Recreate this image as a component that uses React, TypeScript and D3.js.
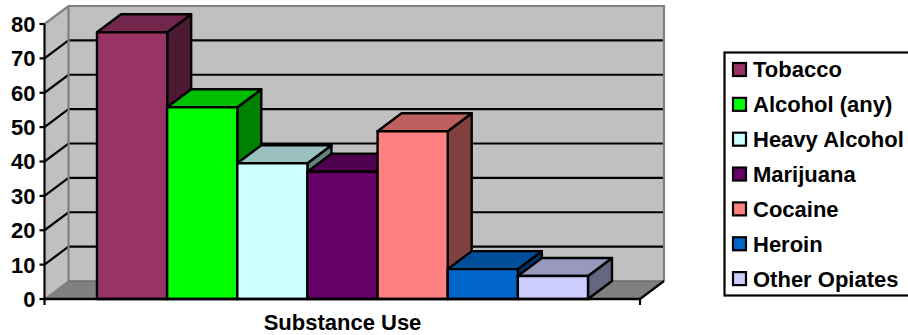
import React from "react";
import * as d3 from "d3";

const substances = ["Tobacco", "Alcohol (any)", "Heavy Alcohol", "Marijuana", "Cocaine", "Heroin", "Other Opiates"];
const percentages = [77.6, 55.8, 39.5, 37, 48.8, 8.7, 6.7];
const frontColors = ["#993366", "#00FF00", "#CCFFFF", "#660066", "#FF8080", "#0066CC", "#CCCCFF"];
const yTicks = [0, 10, 20, 30, 40, 50, 60, 70, 80];
const axisTitle = "Substance Use";

const W = 908;
const H = 335;
const font = "'Liberation Sans', Arial, sans-serif";

// Oblique offset that gives the plot its depth
const depthX = 24;
const depthY = -18;

const y = d3.scaleLinear().domain([0, 80]).range([299, 24]);
const x = d3.scaleBand<string>().domain(substances).range([97, 588]);
const floorLeft = 44.5;
const floorRight = 640;

const pts = (p: [number, number][]) => p.map((c) => c.join(",")).join(" ");

// Faces of a box are the front colour scaled towards black
const shade = (c: string, k: number) => {
  const { r, g, b } = d3.rgb(c);
  return d3.rgb(r * k, g * k, b * k).formatHex();
};

function Bar({ name, value, color }: { name: string; value: number; color: string }) {
  const x0 = x(name)!;
  const x1 = x0 + x.bandwidth();
  const top = y(value);
  const base = y(0);
  return (
    <g stroke="#000" strokeWidth={2.4} strokeLinejoin="round">
      <polygon
        points={pts([[x1, top], [x1 + depthX, top + depthY], [x1 + depthX, base + depthY], [x1, base]])}
        fill={shade(color, 0.5)}
      />
      <polygon
        points={pts([[x0, top], [x0 + depthX, top + depthY], [x1 + depthX, top + depthY], [x1, top]])}
        fill={shade(color, 0.75)}
      />
      <rect x={x0} y={top} width={x.bandwidth()} height={base - top} fill={color} />
    </g>
  );
}

export default function App() {
  const b = y(0);
  const t = y(80);
  return (
    <svg width={W} height={H} style={{ position: "absolute", left: 0, top: 0, background: "#fff" }} fontFamily={font}>
      {/* Walls and floor */}
      <polygon points={pts([[floorLeft, b], [floorLeft + depthX, b + depthY], [floorLeft + depthX, t + depthY], [floorLeft, t]])} fill="#C0C0C0" />
      <rect x={floorLeft + depthX} y={t + depthY} width={floorRight - floorLeft} height={b - t} fill="#C0C0C0" />
      <polygon points={pts([[floorLeft, b], [floorLeft + depthX, b + depthY], [floorRight + depthX, b + depthY], [floorRight, b]])} fill="#808080" />

      {/* Gridlines run along the side wall and across the back wall */}
      {yTicks.slice(1, -1).map((v) => (
        <polyline
          key={v}
          points={pts([[floorLeft, y(v)], [floorLeft + depthX, y(v) + depthY], [floorRight + depthX, y(v) + depthY]])}
          fill="none"
          stroke="#000"
          strokeWidth={2.2}
        />
      ))}
      <polyline
        points={pts([[floorLeft, t], [floorLeft + depthX, t + depthY], [floorRight + depthX, t + depthY], [floorRight + depthX, b + depthY]])}
        fill="none"
        stroke="#808080"
        strokeWidth={2.2}
      />
      <line x1={floorLeft + depthX} y1={t + depthY} x2={floorLeft + depthX} y2={b + depthY} stroke="#808080" strokeWidth={2.2} />
      <line x1={floorLeft} y1={b} x2={floorLeft + depthX} y2={b + depthY} stroke="#808080" strokeWidth={1.5} />
      <line x1={floorLeft + depthX} y1={b + depthY} x2={floorRight + depthX} y2={b + depthY} stroke="#6E6E6E" strokeWidth={1.5} />
      <line x1={floorRight} y1={b} x2={floorRight + depthX} y2={b + depthY} stroke="#000" strokeWidth={2.2} />

      {substances.map((s, i) => (
        <Bar key={s} name={s} value={percentages[i]} color={frontColors[i]} />
      ))}

      {/* Axes */}
      <line x1={floorLeft} y1={t} x2={floorLeft} y2={b + 6} stroke="#000" strokeWidth={2.2} />
      <line x1={floorLeft} y1={b} x2={floorRight} y2={b} stroke="#000" strokeWidth={2.5} />
      <line x1={floorRight} y1={b} x2={floorRight} y2={b + 6} stroke="#000" strokeWidth={2.2} />
      {yTicks.map((v) => (
        <g key={v}>
          <line x1={floorLeft - 5} y1={y(v)} x2={floorLeft} y2={y(v)} stroke="#000" strokeWidth={2.2} />
          <text x={35.5} y={y(v)} dy="0.36em" textAnchor="end" fontSize={22} fontWeight="bold" fill="#000">
            {v}
          </text>
        </g>
      ))}
      <text x={342.5} y={330} textAnchor="middle" fontSize={22} fontWeight="bold" fill="#000">
        {axisTitle}
      </text>

      {/* Legend */}
      <rect x={724.5} y={52.5} width={190} height={243} fill="#fff" stroke="#000" strokeWidth={2.2} />
      {substances.map((s, i) => {
        const cy = 70 + i * 34.85;
        return (
          <g key={s}>
            <rect x={733} y={cy - 7} width={13} height={13} fill={frontColors[i]} stroke="#000" strokeWidth={2.2} />
            <text x={753} y={cy} dy="0.34em" fontSize={22} fontWeight="bold" fill="#000">
              {s}
            </text>
          </g>
        );
      })}
    </svg>
  );
}
